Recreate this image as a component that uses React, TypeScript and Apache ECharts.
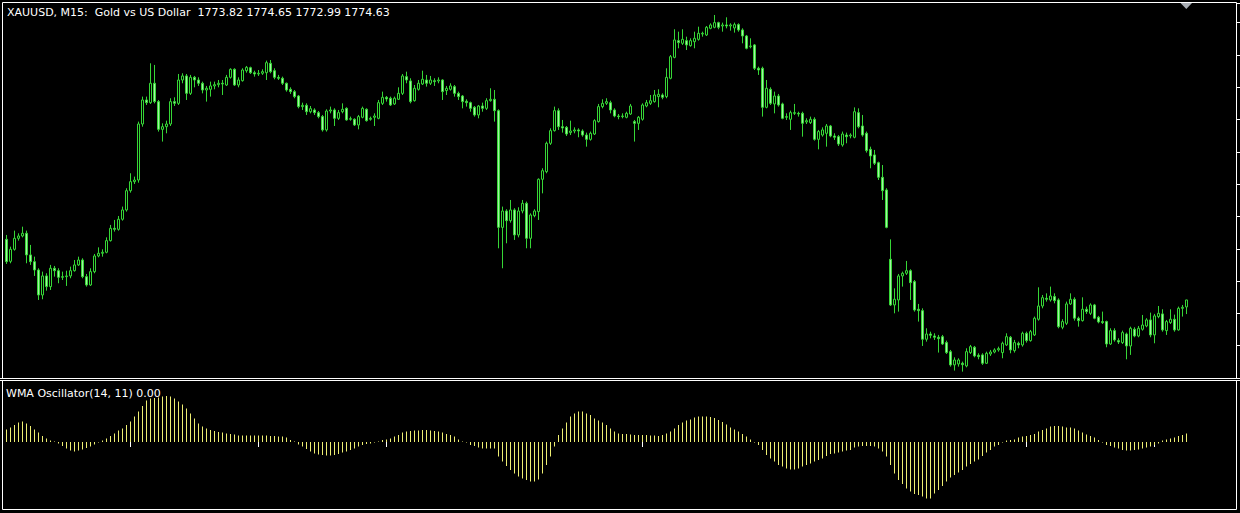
import React, { useEffect, useRef } from "react";
import * as echarts from "echarts";

const TITLE = "XAUUSD, M15:  Gold vs US Dollar  1773.82 1774.65 1772.99 1774.63";
const OSC_TITLE = "WMA Oscillator(14, 11) 0.00";

// M15 candles, oldest -> newest
const openP = [
  1781.67, 1779.12, 1780.51, 1781.79, 1782.06, 1782.37, 1779.86, 1779.08, 1778.11, 1775.21,
  1777.42, 1776.18, 1778.31, 1778.03, 1777.26, 1777.34, 1777.42, 1778.03, 1778.70, 1779.27,
  1777.34, 1776.37, 1777.92, 1779.74, 1780.05, 1780.17, 1781.52, 1782.95, 1782.83, 1784.00,
  1785.08, 1787.32, 1788.37, 1788.56, 1795.06, 1797.85, 1797.54, 1799.79, 1797.66, 1794.44,
  1794.75, 1795.06, 1797.66, 1797.46, 1800.17, 1800.64, 1798.62, 1800.48, 1800.17, 1799.79,
  1799.01, 1799.09, 1799.48, 1799.63, 1799.79, 1799.59, 1800.48, 1801.41, 1799.59, 1800.09,
  1801.25, 1801.60, 1801.02, 1800.87, 1800.95, 1801.02, 1802.11, 1801.25, 1800.48, 1800.37,
  1799.79, 1799.09, 1798.82, 1798.31, 1797.08, 1797.23, 1796.49, 1796.69, 1796.38, 1795.92,
  1794.37, 1796.57, 1796.69, 1795.72, 1796.49, 1796.88, 1795.61, 1795.61, 1794.95, 1795.84,
  1796.77, 1795.61, 1795.84, 1795.72, 1797.46, 1798.16, 1798.05, 1797.39, 1797.93, 1798.62,
  1800.56, 1800.06, 1797.77, 1799.09, 1799.71, 1800.17, 1799.79, 1800.09, 1800.06, 1800.17,
  1798.94, 1799.09, 1799.40, 1798.62, 1798.31, 1797.70, 1797.54, 1797.00, 1796.11, 1797.15,
  1796.88, 1797.77, 1797.93, 1796.61, 1783.06, 1784.96, 1783.84, 1785.08, 1782.18, 1784.96,
  1785.85, 1781.79, 1784.42, 1784.89, 1788.64, 1789.53, 1792.82, 1794.29, 1796.61, 1794.75,
  1794.67, 1794.06, 1794.25, 1794.37, 1794.25, 1793.78, 1793.28, 1793.90, 1795.34, 1797.08,
  1797.46, 1797.54, 1796.69, 1795.99, 1795.92, 1795.84, 1796.22, 1795.34, 1795.14, 1795.61,
  1797.15, 1797.46, 1797.66, 1798.24, 1798.43, 1798.24, 1800.37, 1802.80, 1804.74, 1804.43,
  1804.74, 1804.16, 1804.62, 1804.89, 1805.51, 1805.40, 1806.17, 1806.29, 1806.83, 1806.44,
  1806.56, 1806.44, 1806.21, 1806.60, 1805.98, 1805.28, 1804.04, 1804.24, 1801.53, 1801.53,
  1797.00, 1799.09, 1797.39, 1798.31, 1797.39, 1795.84, 1795.61, 1796.30, 1796.30, 1796.30,
  1795.30, 1795.22, 1795.61, 1793.28, 1793.78, 1793.98, 1794.83, 1793.67, 1793.59, 1792.63,
  1793.78, 1793.67, 1793.52, 1796.38, 1794.83, 1793.98, 1792.12, 1791.47, 1790.57, 1788.87,
  1787.40, 1779.35, 1774.05, 1774.63, 1777.42, 1777.73, 1778.03, 1776.76, 1773.55, 1773.39,
  1770.07, 1770.68, 1770.45, 1770.30, 1770.37, 1769.68, 1768.63, 1767.09, 1767.20, 1767.28,
  1766.97, 1768.52, 1769.14, 1768.21, 1768.25, 1767.28, 1768.36, 1768.59, 1768.83, 1768.52,
  1769.41, 1770.30, 1768.75, 1769.60, 1769.41, 1770.76, 1769.91, 1770.57, 1772.39, 1773.93,
  1774.82, 1774.63, 1775.02, 1774.63, 1771.46, 1771.92, 1774.17, 1774.71, 1772.51, 1772.23,
  1773.55, 1773.08, 1774.05, 1772.62, 1772.12, 1772.12, 1769.52, 1771.07, 1769.91, 1769.68,
  1770.68, 1769.29, 1771.23, 1770.45, 1771.23, 1771.61, 1772.31, 1770.57, 1772.70, 1773.01,
  1771.07, 1772.00, 1772.39, 1771.15, 1773.66, 1773.82,
];

const highP = [
  1782.18, 1780.82, 1782.68, 1782.37, 1783.14, 1782.68, 1781.02, 1779.66, 1778.31, 1777.92,
  1777.73, 1778.70, 1778.58, 1778.31, 1777.92, 1778.03, 1778.50, 1779.27, 1779.66, 1779.47,
  1777.65, 1778.31, 1779.97, 1780.74, 1780.51, 1781.90, 1783.34, 1783.92, 1784.38, 1785.47,
  1787.60, 1789.34, 1788.95, 1795.34, 1798.24, 1798.24, 1802.11, 1801.92, 1797.85, 1795.14,
  1795.45, 1798.05, 1798.16, 1800.87, 1800.95, 1800.87, 1800.76, 1800.64, 1800.48, 1799.98,
  1799.48, 1799.98, 1799.98, 1800.17, 1800.17, 1800.76, 1801.53, 1801.53, 1800.48, 1801.53,
  1801.80, 1801.72, 1801.25, 1801.33, 1801.41, 1802.42, 1802.49, 1801.53, 1800.76, 1800.56,
  1799.87, 1799.32, 1799.01, 1798.43, 1797.54, 1797.46, 1797.15, 1796.88, 1796.57, 1796.11,
  1796.77, 1797.08, 1796.88, 1796.69, 1797.46, 1797.00, 1795.92, 1795.72, 1796.11, 1797.08,
  1796.88, 1795.92, 1796.30, 1797.85, 1798.82, 1798.31, 1798.24, 1798.24, 1799.32, 1800.87,
  1801.14, 1800.37, 1799.59, 1800.17, 1801.25, 1800.76, 1800.64, 1800.37, 1800.48, 1800.25,
  1799.48, 1799.79, 1799.59, 1798.82, 1798.43, 1797.93, 1797.66, 1797.15, 1797.27, 1797.54,
  1798.05, 1799.21, 1799.01, 1796.77, 1785.47, 1785.16, 1786.24, 1785.28, 1785.39, 1786.24,
  1786.05, 1784.69, 1785.16, 1788.75, 1789.92, 1793.02, 1794.56, 1797.08, 1796.88, 1795.53,
  1794.83, 1795.45, 1794.67, 1794.56, 1794.44, 1794.06, 1794.18, 1795.61, 1797.39, 1797.93,
  1798.05, 1797.77, 1796.88, 1796.22, 1796.30, 1796.49, 1797.39, 1795.53, 1795.99, 1797.46,
  1797.85, 1798.43, 1799.01, 1799.09, 1798.62, 1801.53, 1803.07, 1806.06, 1805.78, 1806.06,
  1805.20, 1805.01, 1805.78, 1806.36, 1805.78, 1806.44, 1806.75, 1807.72, 1806.94, 1806.83,
  1807.45, 1806.75, 1806.83, 1806.75, 1806.17, 1805.40, 1805.01, 1804.35, 1801.72, 1801.72,
  1800.17, 1799.32, 1798.82, 1798.55, 1797.54, 1796.30, 1796.61, 1797.39, 1796.49, 1796.49,
  1795.72, 1795.92, 1795.84, 1794.37, 1794.67, 1795.06, 1794.95, 1793.98, 1793.78, 1794.18,
  1794.06, 1793.98, 1796.99, 1796.88, 1796.11, 1794.18, 1792.43, 1792.05, 1790.69, 1790.30,
  1787.60, 1781.67, 1775.98, 1777.65, 1777.92, 1779.16, 1778.19, 1776.95, 1774.17, 1773.66,
  1771.34, 1770.95, 1770.76, 1770.57, 1770.57, 1769.91, 1768.83, 1767.97, 1767.86, 1767.47,
  1769.02, 1769.41, 1769.29, 1768.44, 1768.44, 1768.63, 1768.83, 1769.02, 1769.21, 1769.79,
  1770.76, 1770.45, 1769.99, 1769.79, 1770.95, 1770.95, 1771.15, 1772.70, 1776.10, 1775.21,
  1775.40, 1776.18, 1775.40, 1774.82, 1772.39, 1774.44, 1775.40, 1774.94, 1772.70, 1774.94,
  1773.86, 1774.24, 1774.17, 1772.78, 1773.28, 1772.23, 1771.34, 1771.34, 1770.18, 1771.07,
  1770.84, 1771.53, 1771.46, 1771.61, 1772.89, 1772.51, 1773.16, 1773.01, 1773.93, 1773.55,
  1772.31, 1773.55, 1772.93, 1773.86, 1774.05, 1774.65,
];

const lowP = [
  1778.81, 1778.89, 1780.36, 1781.52, 1781.90, 1778.89, 1778.70, 1777.42, 1774.63, 1774.71,
  1775.71, 1775.79, 1777.34, 1776.57, 1776.95, 1776.26, 1777.15, 1777.92, 1778.58, 1777.15,
  1776.18, 1776.26, 1777.73, 1779.58, 1779.66, 1780.05, 1781.41, 1782.57, 1782.68, 1783.84,
  1784.89, 1787.09, 1788.10, 1788.25, 1794.75, 1797.27, 1797.39, 1797.46, 1794.18, 1793.02,
  1793.98, 1794.83, 1797.15, 1797.27, 1799.79, 1797.85, 1798.43, 1799.32, 1799.48, 1798.62,
  1797.66, 1798.24, 1799.09, 1799.32, 1798.43, 1799.48, 1800.33, 1799.48, 1799.32, 1799.98,
  1801.02, 1800.87, 1800.56, 1800.64, 1800.76, 1800.17, 1800.95, 1800.25, 1800.17, 1799.59,
  1798.82, 1798.55, 1798.05, 1796.88, 1796.69, 1796.11, 1796.30, 1796.11, 1795.72, 1794.18,
  1794.18, 1796.30, 1794.83, 1795.53, 1796.30, 1795.45, 1795.45, 1794.83, 1794.44, 1795.72,
  1795.34, 1795.45, 1794.83, 1795.61, 1797.27, 1797.66, 1797.15, 1797.27, 1797.85, 1798.43,
  1799.79, 1797.46, 1797.66, 1798.94, 1799.59, 1799.40, 1799.59, 1799.48, 1799.79, 1797.85,
  1798.43, 1798.94, 1798.24, 1797.85, 1796.88, 1797.08, 1796.49, 1795.92, 1795.72, 1796.49,
  1796.69, 1797.66, 1795.34, 1780.63, 1778.31, 1781.21, 1783.61, 1781.60, 1781.90, 1784.69,
  1780.63, 1780.63, 1784.23, 1783.92, 1787.01, 1789.34, 1792.63, 1794.18, 1794.37, 1794.06,
  1793.67, 1793.78, 1793.98, 1793.52, 1793.59, 1792.43, 1793.13, 1793.78, 1795.22, 1796.88,
  1797.27, 1796.30, 1795.84, 1795.61, 1795.72, 1795.72, 1796.11, 1793.02, 1794.37, 1795.45,
  1797.00, 1797.27, 1797.54, 1797.00, 1797.93, 1798.05, 1800.25, 1802.69, 1803.85, 1804.24,
  1803.65, 1804.04, 1803.85, 1804.74, 1805.20, 1805.28, 1806.06, 1806.17, 1806.06, 1805.78,
  1806.17, 1805.90, 1805.67, 1805.78, 1804.43, 1803.73, 1803.85, 1801.33, 1800.76, 1795.92,
  1796.88, 1797.27, 1796.30, 1797.08, 1795.61, 1795.53, 1794.37, 1796.11, 1795.92, 1793.59,
  1795.06, 1795.06, 1793.13, 1792.12, 1793.59, 1792.43, 1793.52, 1793.21, 1792.51, 1792.43,
  1792.82, 1793.40, 1793.40, 1794.56, 1793.59, 1791.74, 1789.92, 1790.30, 1788.56, 1786.24,
  1782.95, 1773.93, 1773.08, 1773.28, 1776.18, 1777.53, 1774.63, 1773.28, 1772.12, 1769.29,
  1769.79, 1770.18, 1769.99, 1768.52, 1769.41, 1768.36, 1766.89, 1766.43, 1766.89, 1766.31,
  1766.81, 1768.36, 1767.97, 1767.74, 1767.09, 1767.20, 1768.13, 1768.44, 1768.63, 1767.86,
  1769.29, 1768.44, 1768.52, 1769.02, 1769.21, 1769.68, 1769.79, 1770.45, 1772.23, 1773.66,
  1774.44, 1774.44, 1774.24, 1771.34, 1771.23, 1771.72, 1774.05, 1772.23, 1771.53, 1772.12,
  1773.01, 1772.89, 1772.39, 1771.92, 1771.84, 1769.14, 1769.41, 1769.79, 1769.52, 1769.52,
  1767.74, 1768.25, 1770.30, 1770.30, 1771.07, 1771.46, 1770.30, 1769.60, 1772.51, 1770.95,
  1770.57, 1771.84, 1770.95, 1771.07, 1772.70, 1772.99,
];

const closeP = [
  1779.08, 1780.51, 1781.79, 1782.06, 1782.37, 1779.86, 1779.08, 1778.11, 1775.21, 1777.42,
  1776.18, 1778.31, 1778.03, 1777.26, 1777.34, 1777.42, 1778.03, 1778.70, 1779.27, 1777.34,
  1776.37, 1777.92, 1779.74, 1780.05, 1780.17, 1781.52, 1782.95, 1782.83, 1784.00, 1785.08,
  1787.32, 1788.37, 1788.56, 1795.06, 1797.85, 1797.54, 1799.79, 1797.66, 1794.44, 1794.75,
  1795.06, 1797.66, 1797.46, 1800.17, 1800.64, 1798.62, 1800.48, 1800.17, 1799.79, 1799.01,
  1799.21, 1799.48, 1799.63, 1799.79, 1799.71, 1800.48, 1801.41, 1799.59, 1800.17, 1801.33,
  1801.64, 1801.02, 1800.87, 1800.95, 1801.14, 1802.18, 1801.14, 1800.48, 1800.37, 1799.79,
  1799.01, 1798.82, 1798.24, 1797.08, 1797.23, 1796.49, 1796.84, 1796.38, 1795.92, 1794.37,
  1796.57, 1796.69, 1795.72, 1796.38, 1796.77, 1795.53, 1795.68, 1794.95, 1795.92, 1796.88,
  1795.45, 1795.72, 1795.99, 1797.54, 1798.16, 1797.97, 1797.27, 1798.05, 1798.62, 1800.64,
  1800.17, 1797.66, 1799.21, 1799.79, 1800.25, 1799.79, 1800.17, 1799.98, 1800.17, 1798.82,
  1799.21, 1799.48, 1798.62, 1798.24, 1797.66, 1797.54, 1796.88, 1796.11, 1797.15, 1796.88,
  1797.77, 1797.93, 1796.61, 1783.06, 1784.96, 1783.84, 1785.08, 1782.18, 1784.96, 1785.85,
  1781.79, 1784.50, 1784.96, 1788.64, 1789.64, 1792.82, 1794.29, 1796.61, 1794.75, 1794.60,
  1793.90, 1794.25, 1794.37, 1794.25, 1793.78, 1793.28, 1793.98, 1795.45, 1797.08, 1797.46,
  1797.66, 1796.69, 1795.99, 1795.92, 1795.99, 1796.30, 1797.15, 1795.14, 1795.84, 1797.27,
  1797.54, 1797.77, 1798.43, 1798.51, 1798.16, 1800.48, 1802.88, 1804.82, 1804.51, 1804.89,
  1804.24, 1804.74, 1805.01, 1805.59, 1805.59, 1806.29, 1806.56, 1806.83, 1806.29, 1806.56,
  1806.44, 1806.56, 1806.60, 1805.98, 1805.28, 1803.85, 1804.12, 1801.53, 1801.33, 1797.00,
  1799.21, 1797.46, 1798.31, 1797.27, 1795.72, 1795.92, 1796.38, 1796.38, 1796.22, 1795.14,
  1795.45, 1795.61, 1793.28, 1794.18, 1794.37, 1794.83, 1793.67, 1793.52, 1792.74, 1793.90,
  1793.59, 1793.78, 1796.49, 1794.75, 1793.78, 1791.97, 1791.35, 1790.50, 1788.87, 1787.32,
  1783.06, 1774.05, 1774.71, 1777.42, 1777.73, 1778.03, 1776.64, 1773.47, 1773.39, 1770.07,
  1770.68, 1770.53, 1770.30, 1770.14, 1769.52, 1768.52, 1767.09, 1767.66, 1767.66, 1767.12,
  1768.63, 1769.21, 1768.13, 1768.05, 1767.28, 1768.44, 1768.59, 1768.83, 1768.98, 1769.60,
  1770.37, 1768.83, 1769.68, 1769.41, 1770.76, 1769.91, 1770.95, 1772.51, 1773.93, 1774.90,
  1774.71, 1775.09, 1774.55, 1771.53, 1772.12, 1774.17, 1774.71, 1772.51, 1772.23, 1773.55,
  1773.28, 1774.05, 1772.51, 1772.08, 1772.00, 1769.52, 1771.07, 1769.99, 1769.75, 1770.84,
  1769.29, 1771.34, 1770.45, 1771.34, 1771.72, 1772.31, 1770.57, 1772.78, 1773.08, 1771.15,
  1772.12, 1772.39, 1771.15, 1773.66, 1773.78, 1774.63,
];

// WMA Oscillator(14, 11) histogram, one value per candle
const wmaOsc = [
  0.63, 0.73, 0.85, 0.97, 1.02, 0.93, 0.80, 0.63, 0.47, 0.30,
  0.18, 0.07, 0.03, -0.07, -0.20, -0.33, -0.43, -0.47, -0.43, -0.37,
  -0.30, -0.23, -0.13, -0.03, 0.07, 0.18, 0.30, 0.43, 0.57, 0.68,
  0.85, 1.02, 1.27, 1.52, 1.80, 2.07, 2.17, 2.20, 2.23, 2.27,
  2.30, 2.27, 2.17, 2.03, 1.87, 1.67, 1.43, 1.17, 0.93, 0.77,
  0.67, 0.60, 0.55, 0.50, 0.47, 0.43, 0.40, 0.37, 0.33, 0.33,
  0.32, 0.32, 0.32, 0.32, 0.32, 0.32, 0.30, 0.30, 0.28, 0.27,
  0.22, 0.10, 0.03, -0.13, -0.23, -0.35, -0.48, -0.57, -0.62, -0.65,
  -0.67, -0.67, -0.65, -0.60, -0.53, -0.48, -0.40, -0.32, -0.23, -0.15,
  -0.10, -0.07, -0.03, 0.02, 0.10, 0.13, 0.18, 0.27, 0.35, 0.47,
  0.52, 0.55, 0.57, 0.58, 0.60, 0.60, 0.57, 0.55, 0.52, 0.47,
  0.40, 0.35, 0.27, 0.13, 0.03, -0.03, -0.15, -0.20, -0.27, -0.32,
  -0.32, -0.32, -0.33, -0.73, -0.98, -1.20, -1.40, -1.57, -1.73, -1.83,
  -1.90, -1.98, -1.98, -1.87, -1.57, -1.15, -0.73, -0.23, 0.35, 0.68,
  0.97, 1.27, 1.43, 1.52, 1.52, 1.43, 1.35, 1.18, 1.07, 0.97,
  0.85, 0.68, 0.52, 0.43, 0.40, 0.40, 0.37, 0.35, 0.35, 0.35,
  0.35, 0.33, 0.33, 0.30, 0.35, 0.43, 0.52, 0.68, 0.85, 0.97,
  1.07, 1.13, 1.23, 1.27, 1.28, 1.28, 1.25, 1.20, 1.10, 1.00,
  0.87, 0.73, 0.63, 0.52, 0.40, 0.27, 0.13, -0.02, -0.15, -0.40,
  -0.65, -0.82, -0.98, -1.15, -1.23, -1.32, -1.37, -1.37, -1.32, -1.23,
  -1.15, -1.07, -0.98, -0.90, -0.82, -0.70, -0.60, -0.57, -0.53, -0.48,
  -0.43, -0.40, -0.27, -0.23, -0.20, -0.20, -0.20, -0.23, -0.32, -0.48,
  -0.73, -1.15, -1.57, -1.90, -2.10, -2.32, -2.48, -2.60, -2.65, -2.73,
  -2.82, -2.82, -2.57, -2.40, -2.20, -1.98, -1.77, -1.65, -1.53, -1.40,
  -1.23, -1.10, -0.98, -0.87, -0.70, -0.53, -0.40, -0.23, -0.15, -0.03,
  0.07, 0.10, 0.13, 0.23, 0.27, 0.30, 0.35, 0.40, 0.52, 0.60,
  0.68, 0.77, 0.80, 0.80, 0.77, 0.73, 0.72, 0.67, 0.57, 0.47,
  0.38, 0.30, 0.23, 0.10, -0.02, -0.15, -0.20, -0.27, -0.32, -0.40,
  -0.43, -0.43, -0.40, -0.37, -0.32, -0.27, -0.23, -0.15, -0.07, 0.07,
  0.13, 0.18, 0.23, 0.30, 0.35, 0.43,
];

const SLOT_COUNT = 308; // bar slots across the window (incl. right chart shift)
const TIME_TICK_EVERY = 32; // one time-scale tick every 8 hours of M15 bars
const PRICE_MIN = 1765.57;
const PRICE_MAX = 1809.11;
const PRICE_STEP = 3.75;
const OSC_MIN = -3.35;
const OSC_MAX = 3.05;

export default function App() {
  const ref = useRef<HTMLDivElement>(null);

  useEffect(() => {
    if (!ref.current) return;
    const chart = echarts.init(ref.current, null, { renderer: "svg" });
    const slots = Array.from({ length: SLOT_COUNT }, (_, i) => String(i));
    const candles = openP.map((o, i) => [o, closeP[i], lowP[i], highP[i]]);
    const green = "#36d636";
    const bearFill = "#a6f2a6";
    const white = "#ffffff";

    chart.setOption({
      animation: false,
      backgroundColor: "#000000",
      grid: [
        { left: 4.5, top: 3, width: 1232, height: 375, show: false },
        { left: 4.5, top: 381, width: 1232, height: 128, show: false },
      ],
      xAxis: [
        {
          type: "category",
          gridIndex: 0,
          data: slots,
          boundaryGap: true,
          axisLine: { show: false },
          axisTick: { show: false },
          axisLabel: { show: false },
          splitLine: { show: false },
        },
        {
          type: "category",
          gridIndex: 1,
          data: slots,
          boundaryGap: true,
          axisLine: { show: false },
          axisLabel: { show: false },
          splitLine: { show: false },
          axisTick: {
            show: true,
            alignWithLabel: true,
            interval: (idx: number) => idx % TIME_TICK_EVERY === TIME_TICK_EVERY - 1,
            length: 5,
            lineStyle: { color: white, width: 1 },
          },
        },
      ],
      yAxis: [
        {
          type: "value",
          gridIndex: 0,
          position: "right",
          min: PRICE_MIN,
          max: PRICE_MAX,
          interval: PRICE_STEP,
          axisLine: { show: false },
          axisLabel: { show: false },
          splitLine: { show: false },
          axisTick: { show: true, length: 6, lineStyle: { color: white, width: 1 } },
        },
        {
          type: "value",
          gridIndex: 1,
          min: OSC_MIN,
          max: OSC_MAX,
          axisLine: { show: false },
          axisLabel: { show: false },
          axisTick: { show: false },
          splitLine: { show: false },
        },
      ],
      series: [
        {
          type: "candlestick",
          xAxisIndex: 0,
          yAxisIndex: 0,
          data: candles,
          barWidth: 2,
          silent: true,
          itemStyle: {
            color: "#000000",
            color0: bearFill,
            borderColor: green,
            borderColor0: green,
            borderColorDoji: green,
            borderWidth: 1,
          },
        },
        {
          type: "bar",
          xAxisIndex: 1,
          yAxisIndex: 1,
          data: wmaOsc,
          barWidth: 1,
          silent: true,
          itemStyle: { color: "#eeee72" },
        },
      ],
      graphic: [
        {
          type: "rect",
          silent: true,
          shape: { x: 2.5, y: 2.5, width: 1234, height: 376 },
          style: { fill: "none", stroke: white, lineWidth: 1 },
        },
        {
          type: "line",
          silent: true,
          shape: { x1: 0, y1: 378.5, x2: 1240, y2: 378.5 },
          style: { stroke: white, lineWidth: 1 },
        },
        {
          type: "line",
          silent: true,
          shape: { x1: 0, y1: 380.5, x2: 1240, y2: 380.5 },
          style: { stroke: white, lineWidth: 1 },
        },
        {
          type: "rect",
          silent: true,
          shape: { x: 2.5, y: 380.5, width: 1234, height: 129 },
          style: { fill: "none", stroke: white, lineWidth: 1 },
        },
        {
          type: "polygon",
          silent: true,
          shape: { points: [[1180.5, 3], [1192, 3], [1186.3, 9]] },
          style: { fill: "#a9aeb4" },
        },
        {
          type: "text",
          silent: true,
          x: 7,
          y: 12,
          style: {
            text: TITLE,
            fill: white,
            fontSize: 11,
            fontFamily: "DejaVu Sans",
            verticalAlign: "middle",
          },
        },
        {
          type: "text",
          silent: true,
          x: 6,
          y: 393,
          style: {
            text: OSC_TITLE,
            fill: white,
            fontSize: 11,
            fontFamily: "DejaVu Sans",
            verticalAlign: "middle",
          },
        },
      ],
    });

    return () => chart.dispose();
  }, []);

  return (
    <div
      ref={ref}
      style={{ position: "fixed", left: 0, top: 0, width: 1240, height: 513, background: "#000" }}
    />
  );
}
